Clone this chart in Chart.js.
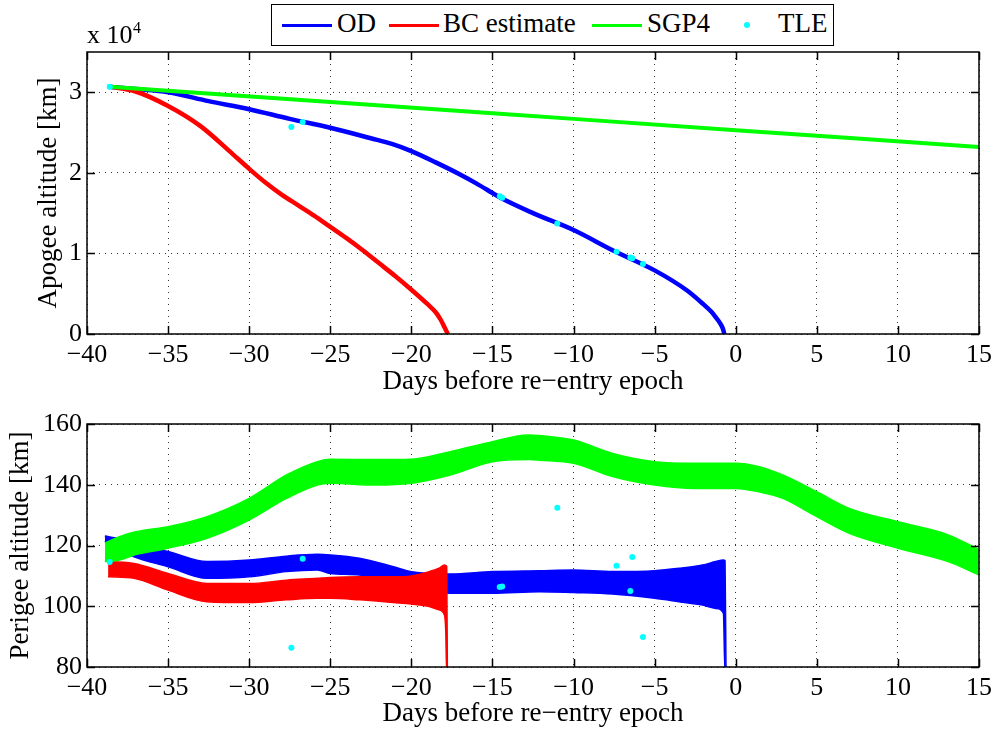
<!DOCTYPE html>
<html>
<head>
<meta charset="utf-8">
<script src="https://cdn.jsdelivr.net/npm/chart.js@4.4.0/dist/chart.umd.min.js"></script>
<style>
  body { margin: 0; background: #fff; width: 998px; height: 732px; overflow: hidden; position: relative; font-family: 'Liberation Serif', 'Times New Roman', serif; }
  canvas { position: absolute; left: 0; }
  #apogeeChart { top: 0; }
  #perigeeChart { top: 395px; }
  .legend { position: absolute; left: 271px; top: 4px; width: 561px; height: 40px; border: 1.5px solid #000; background: #fff; }
  .sample { position: absolute; height: 3px; top: 24px; }
  .lbl { position: absolute; font-size: 27px; line-height: 27px; top: 10px; color: #000; white-space: nowrap; }
  .dot { position: absolute; width: 6px; height: 6px; border-radius: 50%; background: #00ffff; left: 744px; top: 22px; }
  .mult { position: absolute; left: 87px; top: 22px; font-size: 26px; line-height: 26px; }
  .mult-exp { position: absolute; left: 133px; top: 20px; font-size: 16px; line-height: 16px; }
</style>
</head>
<body>
<canvas id="apogeeChart" width="998" height="395"></canvas>
<canvas id="perigeeChart" width="998" height="337"></canvas>

<div class="legend"></div>
<div class="sample" style="left:282px;width:50px;background:#0000ff"></div>
<div class="lbl" style="left:337px">OD</div>
<div class="sample" style="left:389px;width:50px;background:#ff0000"></div>
<div class="lbl" style="left:443px">BC estimate</div>
<div class="sample" style="left:592px;width:50px;background:#00ff00"></div>
<div class="lbl" style="left:647px">SGP4</div>
<div class="dot"></div>
<div class="lbl" style="left:778px">TLE</div>
<div class="mult">x 10</div>
<div class="mult-exp">4</div>

<script>
// tick positions
const dayTicks = [-40, -35, -30, -25, -20, -15, -10, -5, 0, 5, 10, 15];
const apogeeTicks = [0, 10000, 20000, 30000];
const perigeeTicks = [80, 100, 120, 140, 160];

// apogee (km) - top panel
const odApogeeDays = [-38.7, -37, -35, -32.5, -30, -27.5, -25, -22.5, -21.2, -20, -18.5, -17, -16, -15, -14.5, -12.5, -10, -7.5, -5, -3, -2, -1.5, -1.2, -1, -0.8, -0.7];
const odApogee = [30700, 30400, 30000, 28900, 27900, 26700, 25600, 24300, 23600, 22700, 21300, 19800, 18700, 17500, 16900, 15000, 12900, 10300, 7900, 5400, 3700, 2750, 2000, 1450, 700, 0];

const bcApogeeDays = [-38.6, -37, -35, -33, -31, -30, -29, -28, -27, -26, -25, -24, -23, -22, -21, -20, -19, -18.5, -18.2, -17.95, -17.75];
const bcApogee = [30700, 30100, 28300, 25800, 22300, 20500, 18800, 17300, 16000, 14700, 13300, 11900, 10400, 8800, 7200, 5500, 3700, 2700, 1800, 800, 0];

const sgpApogeeDays = [-38.6, -25, -10, 0, 15];
const sgpApogee = [30700, 28800, 26700, 25300, 23200];

// TLE points
const tleDays = [-38.6, -27.4, -26.7, -14.55, -14.4, -11.0, -7.35, -6.5, -6.38, -5.72];
const tleApogee = [30700, 25700, 26300, 17100, 16900, 13700, 10200, 9500, 9400, 8700];
const tlePerigee = [114.6, 86.3, 115.6, 106.3, 106.5, 132.4, 113.3, 105.0, 116.2, 89.9];

// perigee (km) - bottom panel, upper/lower envelope of the oscillation
const sgpPerDays = [-38.9, -38, -37, -35, -32.6, -30, -27.7, -25.8, -25, -22.2, -20, -17.6, -15, -12.8, -12.1, -10, -7.6, -5, -2.5, 0, 1.4, 2.9, 5, 7, 10, 13.1, 15];
const sgpPerUpper = [120.8, 122.9, 124.5, 126.2, 129.5, 135.5, 143.2, 147.6, 148.4, 148.3, 148.4, 150.9, 154.2, 156.4, 156.2, 154.7, 150.3, 147.6, 147.1, 147.1, 146, 143.2, 137.7, 132.2, 127.8, 123.5, 118.6];
const sgpPerLower = [114.7, 115.2, 117, 119.1, 122.4, 128.4, 135.5, 139.9, 140.5, 139.9, 140.5, 143.2, 147.6, 148.3, 148.1, 147.1, 142.7, 139.9, 138.8, 138.8, 137.7, 135.5, 129.5, 124, 119.1, 114.7, 110.3];

const odPerDays = [-38.9, -38, -37.1, -35, -32.6, -30, -27.7, -25.8, -25, -23.2, -21.1, -20, -17.6, -15, -12.1, -10, -7.6, -5, -3.5, -2.05, -1.23, -0.76, -0.66, -0.6];
const odPerUpper = [123.1, 122.2, 120.2, 118, 114.7, 115.2, 116.5, 117.1, 116.9, 115.8, 113.0, 111.4, 110.6, 111.4, 111.7, 111.9, 111.4, 111.7, 112.5, 113.6, 114.7, 115.2, 115, 78];
const odPerLower = [121.5, 118.5, 116.3, 113, 109.2, 109.7, 111.4, 111.9, 110.8, 110.3, 107.5, 106.5, 104.3, 104.3, 104.8, 104.5, 104.0, 102.6, 101.5, 100.4, 99.3, 97.7, 78, 78];

const bcPerDays = [-38.7, -37.1, -35, -32.6, -30, -27.7, -25.8, -25, -23.2, -21.1, -20, -18.9, -18.3, -17.96, -17.88, -17.82, -17.78];
const bcPerUpper = [114.7, 114.1, 110.8, 107.5, 107.5, 108.6, 109.2, 109.5, 109.7, 109.7, 110, 111.4, 112.5, 113.6, 113.4, 113, 78];
const bcPerLower = [109.7, 109.2, 105.3, 101.5, 101.2, 102.1, 102.6, 102.6, 102.1, 101.2, 100.7, 99.9, 98.8, 97.1, 92, 78, 78];

const BLUE = '#0000ff', RED = '#ff0000', GREEN = '#00ff00', CYAN = '#00ffff';
const FONT = "'Liberation Serif', 'Times New Roman', serif";

Chart.defaults.font.family = FONT;
Chart.defaults.color = '#000';

function pts(xs, ys) {
    return xs.map((x, i) => ({ x: x, y: ys[i] }));
}

// matlab-like box with inward tick marks
const boxPlugin = {
    id: 'box',
    afterDraw(chart) {
        const { ctx, chartArea: a, scales } = chart;
        ctx.save();
        ctx.strokeStyle = '#000';
        ctx.lineWidth = 1.5;
        ctx.strokeRect(a.left, a.top, a.right - a.left, a.bottom - a.top);
        ctx.beginPath();
        scales.x.ticks.forEach(t => {
            const p = Math.round(scales.x.getPixelForValue(t.value)) + 0.5;
            ctx.moveTo(p, a.bottom); ctx.lineTo(p, a.bottom - 8);
            ctx.moveTo(p, a.top); ctx.lineTo(p, a.top + 8);
        });
        scales.y.ticks.forEach(t => {
            const p = Math.round(scales.y.getPixelForValue(t.value)) + 0.5;
            ctx.moveTo(a.left, p); ctx.lineTo(a.left + 8, p);
            ctx.moveTo(a.right, p); ctx.lineTo(a.right - 8, p);
        });
        ctx.stroke();
        ctx.restore();
    }
};

function makeOptions(cfg) {
    return {
        responsive: false,
        animation: false,
        layout: { padding: { top: cfg.padTop, right: 18, left: 0, bottom: 0 } },
        plugins: { legend: { display: false }, tooltip: { enabled: false } },
        elements: { line: { cubicInterpolationMode: 'monotone' } },
        scales: {
            x: {
                type: 'linear', min: -40, max: 15,
                afterFit: s => { s.height = cfg.xHeight; },
                afterBuildTicks: s => { s.ticks = dayTicks.map(v => ({ value: v })); },
                ticks: { maxRotation: 0, padding: 6, color: '#000', font: { family: FONT, size: 26 },
                         callback: v => String(v).replace('-', '\u2212') },
                grid: { color: 'rgba(0,0,0,0.8)', lineWidth: 1, drawTicks: false },
                border: { display: false, dash: [1, 5] },
                title: { display: true, text: 'Days before re\u2212entry epoch', color: '#000',
                         font: { family: FONT, size: 27, lineHeight: 1 }, padding: { top: 0, bottom: cfg.xTitlePad } }
            },
            y: {
                type: 'linear', min: cfg.yMin, max: cfg.yMax,
                afterFit: s => { s.width = 87; },
                afterBuildTicks: s => { s.ticks = cfg.yTicks.map(v => ({ value: v })); },
                ticks: { padding: 5, color: '#000', font: { family: FONT, size: 26 }, callback: cfg.yFormat },
                grid: { color: 'rgba(0,0,0,0.8)', lineWidth: 1, drawTicks: false },
                border: { display: false, dash: [1, 5] },
                title: { display: true, text: cfg.yTitle, color: '#000',
                         font: { family: FONT, size: 27, lineHeight: 1 }, padding: { top: cfg.yTitlePad, bottom: 0 } }
            }
        }
    };
}

function tleSet(ys) {
    return { label: 'TLE', data: pts(tleDays, ys), showLine: false, pointRadius: 3, pointBorderWidth: 0,
             pointBackgroundColor: CYAN, order: 0 };
}

function lineSet(label, xs, ys, color, width, order) {
    return { label: label, data: pts(xs, ys), borderColor: color, borderWidth: width, pointRadius: 0, fill: false, order: order };
}

function bandSet(label, xs, ys, color, order, fillTarget) {
    return { label: label, data: pts(xs, ys), borderColor: color, backgroundColor: color, borderWidth: 1.5,
             pointRadius: 0, fill: fillTarget === undefined ? false : fillTarget, order: order };
}

new Chart(document.getElementById('apogeeChart'), {
    type: 'line',
    data: {
        datasets: [
            tleSet(tleApogee),
            lineSet('SGP4', sgpApogeeDays, sgpApogee, GREEN, 4, 1),
            lineSet('BC estimate', bcApogeeDays, bcApogee, RED, 4.5, 2),
            lineSet('OD', odApogeeDays, odApogee, BLUE, 4.5, 3)
        ]
    },
    options: makeOptions({ padTop: 52, xHeight: 61, xTitlePad: 0, yMin: 0, yMax: 35000, yTicks: apogeeTicks,
                           yFormat: v => v / 10000, yTitle: 'Apogee altitude [km]', yTitlePad: 35.5 }),
    plugins: [boxPlugin]
});

new Chart(document.getElementById('perigeeChart'), {
    type: 'line',
    data: {
        datasets: [
            tleSet(tlePerigee),
            bandSet('SGP4 low', sgpPerDays, sgpPerLower, GREEN, 1),
            bandSet('SGP4', sgpPerDays, sgpPerUpper, GREEN, 1, 1),
            bandSet('BC low', bcPerDays, bcPerLower, RED, 2),
            bandSet('BC estimate', bcPerDays, bcPerUpper, RED, 2, 3),
            bandSet('OD low', odPerDays, odPerLower, BLUE, 3),
            bandSet('OD', odPerDays, odPerUpper, BLUE, 3, 5)
        ]
    },
    options: makeOptions({ padTop: 29, xHeight: 65, xTitlePad: 5, yMin: 80, yMax: 160, yTicks: perigeeTicks,
                           yFormat: v => v, yTitle: 'Perigee altitude [km]', yTitlePad: 7.5 }),
    plugins: [boxPlugin]
});
</script>
</body>
</html>
